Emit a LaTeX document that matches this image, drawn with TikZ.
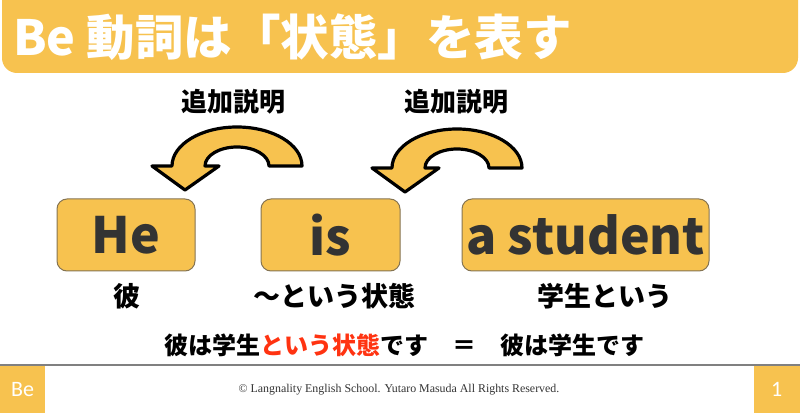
\documentclass[tikz,border=0pt]{standalone}
\usepackage{fontspec}
\setmainfont{Noto Sans CJK JP}
\newfontfamily\footfont{Liberation Serif}
\newfontfamily\tabfont{Carlito}
\usetikzlibrary{positioning}
\definecolor{barorange}{HTML}{F7C24F}
\definecolor{textgray}{HTML}{333333}
\definecolor{boxline}{HTML}{857452}
\definecolor{accent}{HTML}{FF3311}

\begin{document}
\begin{tikzpicture}[
    x=1pt, y=-1pt,
    wordbox/.style={draw=boxline, fill=barorange, rounded corners=10pt, line width=1pt,
        minimum height=72pt, inner sep=0pt, text=textgray,
        font=\fontsize{50}{50}\selectfont\bfseries},
    gloss/.style={font=\fontsize{26}{26}\selectfont\bfseries},
    uturn/.style={draw=black, fill=barorange, line width=3.2pt, line join=round},
    tab/.style={fill=barorange, minimum height=47pt, inner sep=0pt, text=white,
        font=\tabfont\fontsize{22}{22}\selectfont}
]
    \useasboundingbox (0,0) rectangle (800,419);

    % title bar
    \begin{scope}
        \clip (0,0) rectangle (800,73);
        \fill[barorange, rounded corners=15pt] (2,-30) rectangle (798,73);
    \end{scope}
    \node[anchor=base west, text=white, inner sep=0pt,
        font=\fontsize{48.5}{48}\selectfont\bfseries] (title) at (13,56) {Be 動詞は「状態」を表す};

    % u-turn arrows
    \foreach \cx/\cy in {237/166, 457/168}
        \filldraw[uturn] (\cx+65,\cy)
            arc[start angle=0, end angle=180, x radius=65pt, y radius=39pt]
            -- ++(-20,0) -- (\cx-52,\cy+24) -- (\cx-18,\cy) -- (\cx-32,\cy)
            arc[start angle=180, end angle=0, x radius=32pt, y radius=19pt] -- cycle;
    \node[gloss] (addA) at (233,102) {追加説明};
    \node[gloss] (addB) at (456,102) {追加説明};

    % word boxes
    \node[wordbox, minimum width=138pt] (he) at (126,235) {He};
    \node[wordbox, minimum width=139pt] (is) at (330.5,235) {is};
    \node[wordbox, minimum width=247pt] (student) at (585.5,235) {a student};

    \node[gloss, font=\fontsize{27}{27}\selectfont\bfseries] (kare) at (127,296) {彼};
    \node[gloss, font=\fontsize{27}{27}\selectfont\bfseries] (joutai) at (334,296) {～という状態};
    \node[gloss, font=\fontsize{27}{27}\selectfont\bfseries] (gakusei) at (605,296) {学生という};

    \node[font=\fontsize{24}{24}\selectfont\bfseries] (sentence) at (404,345)
        {彼は学生{\color{accent}という状態}です　＝　彼は学生です};

    % footer
    \draw[line width=1.5pt, draw=gray] (0,365) -- (800,365);
    \node[tab, minimum width=45pt, anchor=north west] (tabL) at (0,366) {Be};
    \node[tab, minimum width=46pt, anchor=north east] (tabR) at (800,366) {1};
    \node[font=\footfont\fontsize{11.9}{12}\selectfont, text=textgray] (copy) at (399,390)
        {© Langnality English School. Yutaro Masuda All Rights Reserved.};
\end{tikzpicture}
\end{document}
